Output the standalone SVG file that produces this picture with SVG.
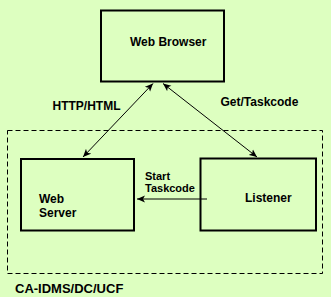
<svg xmlns="http://www.w3.org/2000/svg" width="331" height="297" viewBox="0 0 331 297">
<style>
.box{fill:none;stroke:#000;stroke-width:2}
.t{font-family:"Liberation Sans",Arial,sans-serif;font-weight:bold;font-size:12px;fill:#000}
.s{font-size:11px}
.c{stroke:#000;stroke-width:1;fill:none}
</style>
<defs>
<marker id="ah" viewBox="0 0 8 8" refX="8" refY="4" markerWidth="8" markerHeight="8" markerUnits="userSpaceOnUse" orient="auto-start-reverse">
<path d="M0,0.5 L8,4 L0,7.5 L2,4 Z" fill="#000"/>
</marker>
</defs>
<rect width="331" height="297" fill="#DDFFC0"/>
<rect x="7.5" y="130.5" width="315" height="143" fill="none" stroke="#000" stroke-width="1" stroke-dasharray="5,3"/>
<text class="t" x="15" y="293" style="font-size:13px">CA-IDMS/DC/UCF</text>
<g id="browser">
<rect class="box" x="101" y="10.5" width="123" height="71"/>
<text class="t" x="130" y="46">Web Browser</text>
</g>
<g id="webserver">
<rect class="box" x="21" y="159" width="113" height="71.5"/>
<text class="t" x="39" y="203">Web</text>
<text class="t" x="39" y="217">Server</text>
</g>
<g id="listener">
<rect class="box" x="200.5" y="158.5" width="115.5" height="72"/>
<text class="t" x="245" y="202">Listener</text>
</g>
<g id="connectors">
<line class="c" x1="83" y1="157" x2="153" y2="83.5" marker-start="url(#ah)" marker-end="url(#ah)"/>
<line class="c" x1="257" y1="157" x2="163" y2="83.5" marker-start="url(#ah)" marker-end="url(#ah)"/>
<line class="c" x1="207" y1="199" x2="137" y2="199" marker-end="url(#ah)"/>
</g>
<text class="t" x="52.5" y="110">HTTP/HTML</text>
<text class="t" x="220.5" y="106">Get/Taskcode</text>
<text class="t s" x="145" y="180">Start</text>
<text class="t s" x="145" y="192">Taskcode</text>
</svg>
